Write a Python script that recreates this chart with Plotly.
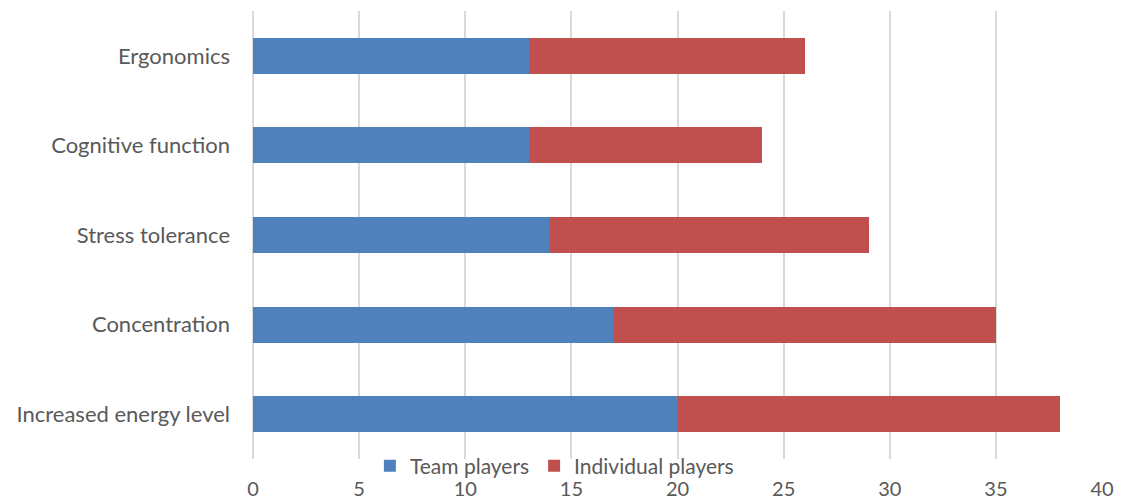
import plotly.graph_objects as go

categories = ["Increased energy level", "Concentration", "Stress tolerance",
              "Cognitive function", "Ergonomics"]
team_players = [20, 17, 14, 13, 13]
individual_players = [18, 18, 15, 11, 13]
x_ticks = [0, 5, 10, 15, 20, 25, 30, 35, 40]

TEXT = "#595959"
GRID = "#D9D9D9"
FONT = "Lato"
SIZE = 22

fig = go.Figure()
fig.add_trace(go.Bar(
    y=categories, x=team_players, orientation="h", name="Team players",
    marker=dict(color="#4F81BD", line=dict(width=0)),
))
fig.add_trace(go.Bar(
    y=categories, x=individual_players, orientation="h", name="Individual players",
    marker=dict(color="#C0504D", line=dict(width=0)),
))

fig.update_layout(
    barmode="stack",
    bargap=0.6,
    width=1133, height=504,
    margin=dict(l=253, r=31, t=11, b=45, autoexpand=False),
    paper_bgcolor="white", plot_bgcolor="white",
    font=dict(family=FONT, size=SIZE, color=TEXT),
    showlegend=True,
    legend=dict(
        orientation="h", x=0.355, xanchor="center", y=-0.016, yanchor="middle",
        font=dict(family=FONT, size=21, color=TEXT),
        bgcolor="rgba(0,0,0,0)", traceorder="normal",
        itemwidth=30,
    ),
    xaxis=dict(
        range=[0, 40], tickvals=x_ticks, ticktext=[str(v) for v in x_ticks],
        showgrid=True, gridcolor=GRID, gridwidth=1.5,
        zeroline=True, zerolinecolor=GRID, zerolinewidth=1.5,
        showline=False, ticks="",
        ticklabelstandoff=16,
        automargin=False,
        tickfont=dict(family=FONT, size=20, color=TEXT),
        fixedrange=True,
    ),
    yaxis=dict(
        categoryorder="array", categoryarray=categories,
        showgrid=False, zeroline=False, showline=False, ticks="",
        ticklabelstandoff=22,
        automargin=False,
        tickfont=dict(family=FONT, size=SIZE, color=TEXT),
        fixedrange=True,
    ),
)

fig.write_html("out.html")
